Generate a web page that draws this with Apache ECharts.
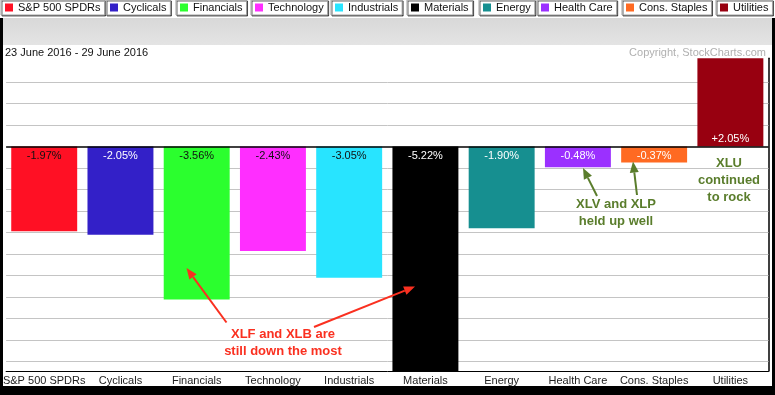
<!DOCTYPE html>
<html>
<head>
<meta charset="utf-8">
<style>
  html, body { margin: 0; padding: 0; background: #fff; }
  #chart { width: 775px; height: 395px; }
</style>
<script src="https://cdn.jsdelivr.net/npm/echarts@6/dist/echarts.min.js"></script>
</head>
<body>
<div id="chart"></div>
<script>
// ---------- DATA ----------
const categories = ['S&P 500 SPDRs', 'Cyclicals', 'Financials', 'Technology', 'Industrials',
                    'Materials', 'Energy', 'Health Care', 'Cons. Staples', 'Utilities'];
const changes = [-1.97, -2.05, -3.56, -2.43, -3.05, -5.22, -1.90, -0.48, -0.37, 2.05];
const gridValues = [-5, -4.5, -4, -3.5, -3, -2.5, -2, -1.5, -1, -0.5, 0.5, 1, 1.5];
const yMin = -5.22;
const yMax = 2.05;
const dateRange = '23 June 2016 - 29 June 2016';
const copyright = 'Copyright, StockCharts.com';

// ---------- STYLE ----------
const barColors = ['#ff1024', '#3320c8', '#2bff2e', '#ff2eff', '#28e4ff',
                   '#000000', '#168f90', '#9b30ff', '#ff6a22', '#980010'];
const labelColors = ['#111', '#fff', '#111', '#111', '#111', '#fff', '#fff', '#fff', '#fff', '#fff'];
const FONT = '"Liberation Sans", Arial, sans-serif';
const legendLefts = [1, 106, 176, 251, 331, 407, 479, 537, 622, 716];
const RED = '#fa3020';
const GREEN = '#5a7d2c';

const chart = echarts.init(document.getElementById('chart'), null, { renderer: 'canvas' });

const series = categories.map((name, i) => {
  const data = categories.map((c, j) => (j === i ? changes[i] : null));
  const s = {
    name: name,
    type: 'bar',
    stack: 'all',
    barCategoryGap: '13.5%',
    data: data,
    itemStyle: { color: barColors[i] },
    label: {
      show: true,
      position: changes[i] < 0 ? 'insideTop' : 'insideBottom',
      distance: changes[i] < 0 ? 4 : 2,
      color: labelColors[i],
      fontSize: 11,
      fontFamily: FONT,
      formatter: p => (p.value > 0 ? '+' : '') + Number(p.value).toFixed(2) + '%'
    },
    emphasis: { disabled: true },
    animation: false
  };
  return s;
});

// grid lines (below bars) and zero line (above)
series.push({
  name: '_grid', type: 'line', data: [], silent: true, animation: false,
  markLine: {
    z: 1, silent: true, symbol: 'none', animation: false,
    label: { show: false },
    lineStyle: { color: '#c4c4c4', width: 1, type: 'solid' },
    data: gridValues.map(v => ({ yAxis: v }))
  }
});
series.push({
  name: '_zero', type: 'line', data: [], silent: true, animation: false,
  markLine: {
    z: 6, silent: true, symbol: 'none', animation: false,
    label: { show: false },
    lineStyle: { color: '#000', width: 1.5, type: 'solid' },
    data: [{ yAxis: 0 }]
  }
});

const legends = categories.map((name, i) => ({
  data: [name],
  left: legendLefts[i],
  top: 0,
  selectedMode: false,
  icon: 'rect',
  itemWidth: 8,
  itemHeight: 8,
  itemGap: 0,
  padding: [2, 4, 2, 4],
  borderColor: '#a0a0a0',
  borderWidth: 1,
  borderRadius: 0,
  backgroundColor: '#fff',
  shadowColor: 'rgba(0,0,0,0.6)',
  shadowOffsetX: 1,
  shadowOffsetY: 1,
  shadowBlur: 0,
  textStyle: { fontSize: 11, fontFamily: FONT, color: '#111' }
}));

function arrow(x1, y1, x2, y2, color) {
  const ang = Math.atan2(y2 - y1, x2 - x1);
  const L = 11, W = 4.5;
  const bx = x2 - L * Math.cos(ang), by = y2 - L * Math.sin(ang);
  const px = -Math.sin(ang) * W, py = Math.cos(ang) * W;
  return [
    { type: 'line', z: 50, silent: true, shape: { x1: x1, y1: y1, x2: bx, y2: by },
      style: { stroke: color, lineWidth: 2 } },
    { type: 'polygon', z: 50, silent: true, shape: { points: [[x2, y2], [bx + px, by + py], [bx - px, by - py]] },
      style: { fill: color } }
  ];
}
function note(x, y, text, color) {
  return { type: 'text', z: 50, silent: true, x: x, y: y,
    style: { text: text, fill: color, font: 'bold 13px ' + FONT, align: 'center', verticalAlign: 'middle' } };
}

const graphics = [
  // frame and header band
  { type: 'rect', z: -10, silent: true, shape: { x: 0, y: 18, width: 775, height: 377 }, style: { fill: '#000' } },
  { type: 'rect', z: -9, silent: true, shape: { x: 3, y: 18, width: 769, height: 368 }, style: { fill: '#fff' } },
  { type: 'rect', z: -8, silent: true, shape: { x: 3, y: 18, width: 769, height: 27 },
    style: { fill: new echarts.graphic.LinearGradient(0, 0, 0, 1, [
      { offset: 0, color: '#d8d8d8' }, { offset: 1, color: '#e4e4e4' }]) } },
  { type: 'text', z: 40, silent: true, x: 5, y: 52.5,
    style: { text: dateRange, fill: '#111', font: '11px ' + FONT, align: 'left', verticalAlign: 'middle' } },
  { type: 'text', z: 40, silent: true, x: 766, y: 52.5,
    style: { text: copyright, fill: '#b0b0b0', font: '11px ' + FONT, align: 'right', verticalAlign: 'middle' } },
  // annotations
  note(283, 334.5, 'XLF and XLB are', RED),
  note(283, 351.5, 'still down the most', RED),
  note(616, 204.5, 'XLV and XLP', GREEN),
  note(616, 221.5, 'held up well', GREEN),
  note(729, 163.5, 'XLU', GREEN),
  note(729, 180.5, 'continued', GREEN),
  note(729, 197.5, 'to rock', GREEN)
].concat(
  arrow(226.5, 322.5, 186.5, 268, RED),
  arrow(314, 327, 415, 286.5, RED),
  arrow(597, 196, 583, 168, GREEN),
  arrow(637, 195, 633, 161.5, GREEN)
);

const option = {
  animation: false,
  backgroundColor: '#fff',
  legend: legends,
  grid: { left: 5, right: 6.5, top: 58.35, bottom: 24, containLabel: false },
  xAxis: {
    type: 'category',
    data: categories,
    axisLine: { show: true, onZero: false, lineStyle: { color: '#000', width: 1 } },
    axisTick: { show: false },
    axisLabel: { interval: 0, fontSize: 11, fontFamily: FONT, color: '#222', margin: 4 },
    splitLine: { show: false }
  },
  yAxis: {
    type: 'value',
    min: yMin,
    max: yMax,
    position: 'right',
    axisLine: { show: true, lineStyle: { color: '#000', width: 1.5 } },
    axisTick: { show: false },
    axisLabel: { show: false },
    splitLine: { show: false }
  },
  graphic: { elements: graphics },
  series: series
};
chart.setOption(option);
</script>
</body>
</html>
